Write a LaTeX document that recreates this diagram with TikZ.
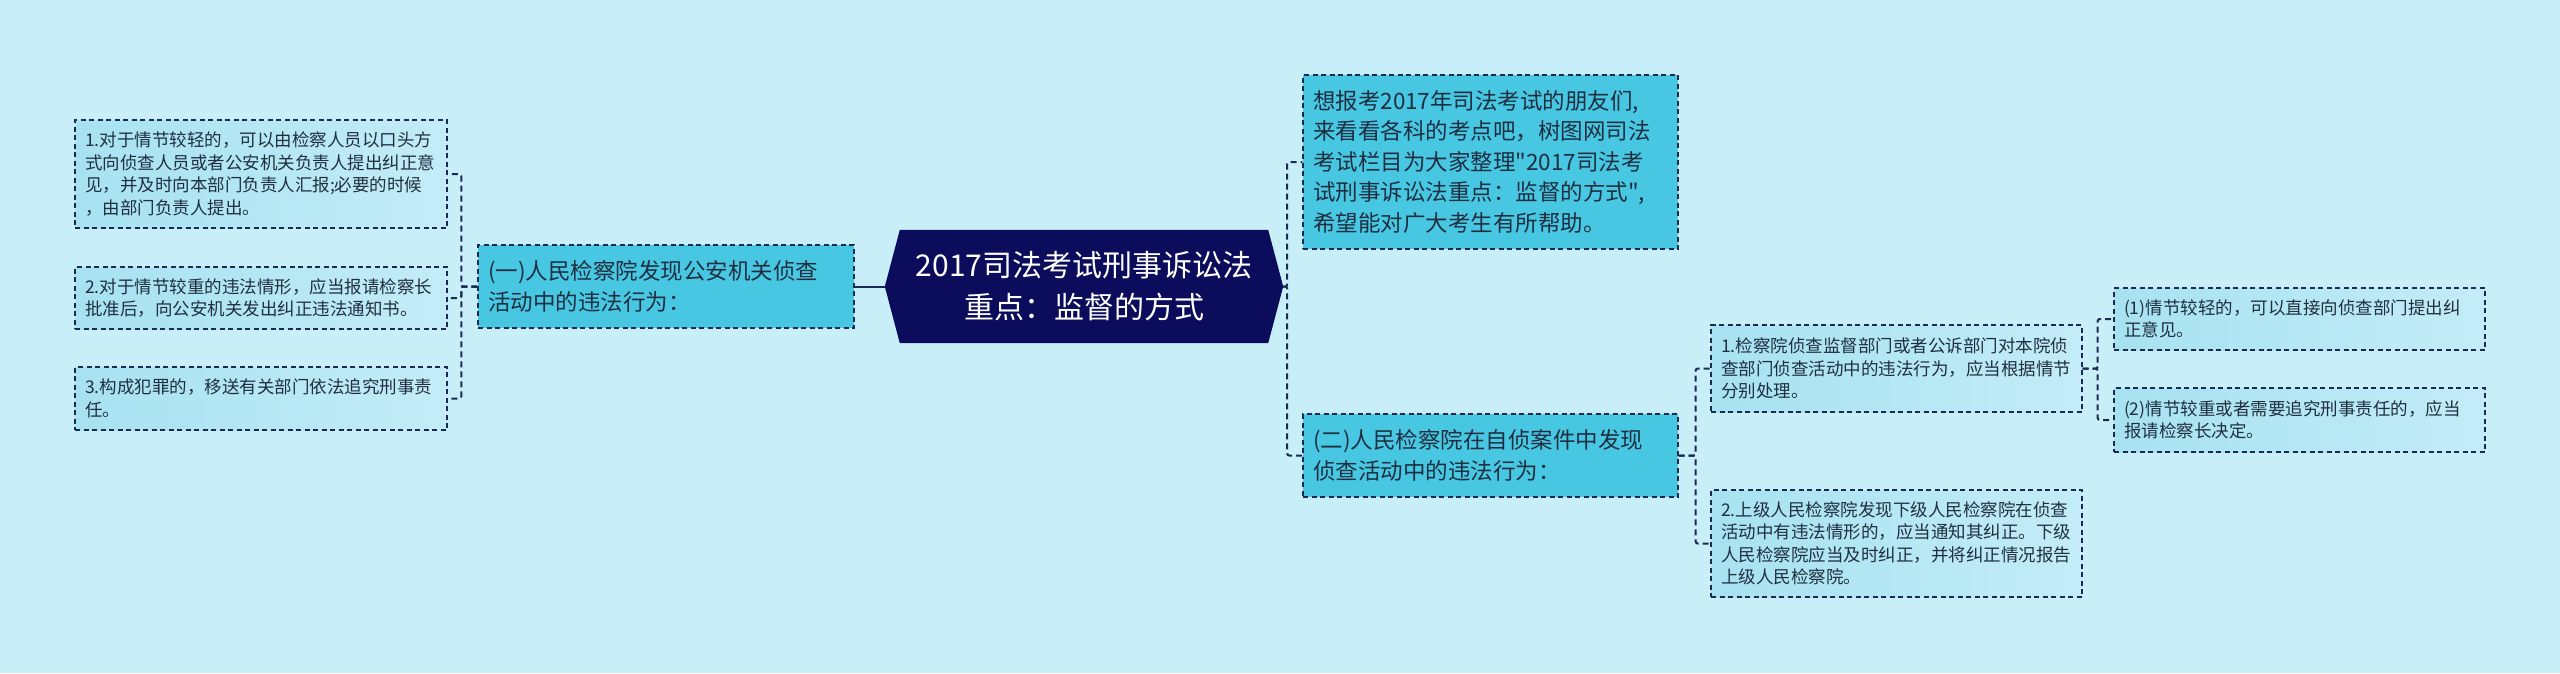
\documentclass[tikz,border=0pt]{standalone}
\usepackage{fontspec}
\setmainfont{Noto Sans CJK SC}
\setmonofont{Noto Sans CJK SC}
\newcommand{\sq}{{\ttfamily"}}
\definecolor{bgc}{HTML}{C8EFF8}
\definecolor{navyline}{HTML}{1B2A55}
\definecolor{lvlfill}{HTML}{48C7E3}
\definecolor{leafA}{HTML}{A7E2F1}
\definecolor{leafB}{HTML}{C3ECF7}
\definecolor{txt}{HTML}{1F2F40}
\definecolor{centerfill}{HTML}{0B0C5B}
\tikzset{
  boxbase/.style={draw=navyline, dash pattern=on 5pt off 3.5pt, line width=1.4pt,
    text=txt, align=left, inner xsep=10pt, inner ysep=0pt, anchor=center},
  leaf/.style={boxbase, left color=leafA, right color=leafB,
    font=\fontsize{17.5pt}{22.5pt}\selectfont},
  lvl/.style={boxbase, fill=lvlfill, font=\fontsize{22.5pt}{30.5pt}\selectfont},
  conn/.style={draw=navyline, line width=2pt, dash pattern=on 6pt off 4pt, rounded corners=2pt},
  solidconn/.style={draw=navyline, line width=2pt},
}
\begin{document}
\begin{tikzpicture}[x=1pt, y=-1pt]
\fill[bgc] (0,0) rectangle (2560,673);
\useasboundingbox (0,0) rectangle (2560,673);

% center
\node[minimum width=368pt, minimum height=113pt, inner sep=0pt] (C) at (1084,286.5) {};
\fill[centerfill] (C.north west) -- (C.north east) -- ([xshift=15pt]C.east) coordinate (cr)
  -- (C.south east) -- (C.south west) -- ([xshift=-15pt]C.west) coordinate (cl) -- cycle;
\node[text=white, align=center, font=\fontsize{30pt}{42pt}\selectfont] (Ct) at (C.center)
  {2017司法考试刑事诉讼法\\重点：监督的方式};

% left side
\node[lvl, text width=356pt, minimum height=83pt] (A) at (666,286.5)
  {(一)人民检察院发现公安机关侦查\\活动中的违法行为：};
\node[leaf, text width=352pt, minimum height=108pt] (L1) at (261,174)
  {1.对于情节较轻的，可以由检察人员以口头方\\式向侦查人员或者公安机关负责人提出纠正意\\见，并及时向本部门负责人汇报;必要的时候\\，由部门负责人提出。};
\node[leaf, text width=352pt, minimum height=62pt] (L2) at (261,298)
  {2.对于情节较重的违法情形，应当报请检察长\\批准后，向公安机关发出纠正违法通知书。};
\node[leaf, text width=352pt, minimum height=63pt] (L3) at (261,398.5)
  {3.构成犯罪的，移送有关部门依法追究刑事责\\任。};

% right side
\node[lvl, text width=355pt, minimum height=174pt] (T) at (1490.5,162)
  {想报考2017年司法考试的朋友们,\\来看看各科的考点吧，树图网司法\\考试栏目为大家整理\sq 2017司法考\\试刑事诉讼法重点：监督的方式\sq,\\希望能对广大考生有所帮助。};
\node[lvl, text width=355pt, minimum height=83pt] (B) at (1490.5,455.5)
  {(二)人民检察院在自侦案件中发现\\侦查活动中的违法行为：};
\node[leaf, text width=351pt, minimum height=87pt] (R1) at (1896.5,368.5)
  {1.检察院侦查监督部门或者公诉部门对本院侦\\查部门侦查活动中的违法行为，应当根据情节\\分别处理。};
\node[leaf, text width=351pt, minimum height=107pt] (R2) at (1896.5,543.5)
  {2.上级人民检察院发现下级人民检察院在侦查\\活动中有违法情形的，应当通知其纠正。下级\\人民检察院应当及时纠正，并将纠正情况报告\\上级人民检察院。};
\node[leaf, text width=351pt, minimum height=62pt] (S1) at (2299.5,319)
  {(1)情节较轻的，可以直接向侦查部门提出纠\\正意见。};
\node[leaf, text width=351pt, minimum height=64pt] (S2) at (2299.5,420)
  {(2)情节较重或者需要追究刑事责任的，应当\\报请检察长决定。};

% connectors
\draw[solidconn] (A.east) -- (cl);
\draw[conn] (A.west) -- ++(-16,0) |- (L1.east);
\draw[conn] (A.west) -- ++(-16,0) |- (L2.east);
\draw[conn] (A.west) -- ++(-16,0) |- (L3.east);
\draw[conn] (cr) -- ++(4,0) |- (T.west);
\draw[conn] (cr) -- ++(4,0) |- (B.west);
\draw[conn] (B.east) -- ++(17,0) |- (R1.west);
\draw[conn] (B.east) -- ++(17,0) |- (R2.west);
\draw[conn] (R1.east) -- ++(15,0) |- (S1.west);
\draw[conn] (R1.east) -- ++(15,0) |- (S2.west);
\end{tikzpicture}
\end{document}
